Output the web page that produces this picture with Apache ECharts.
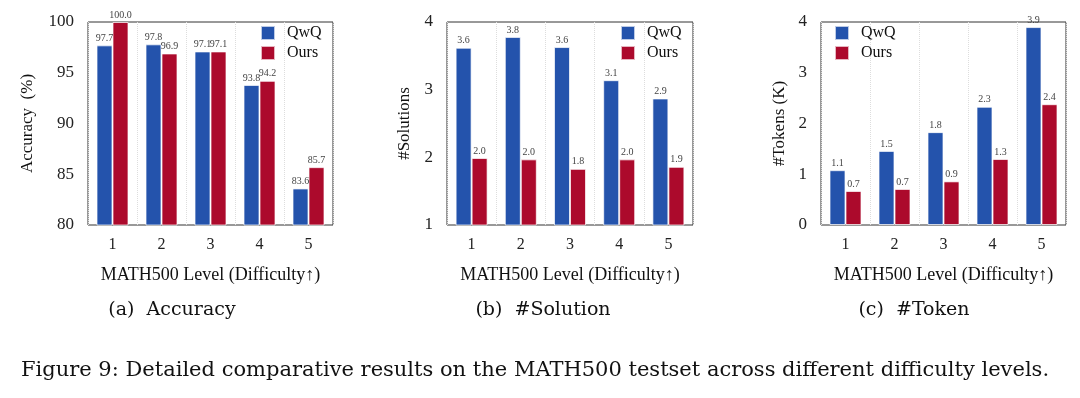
<!DOCTYPE html>
<html>
<head>
<meta charset="utf-8">
<script src="https://cdn.jsdelivr.net/npm/echarts@6/dist/echarts.min.js"></script>
<style>
  html, body { margin: 0; padding: 0; background: #fff; }
  #main { width: 1080px; height: 398px; }
</style>
</head>
<body>
<div id="main"></div>
<script>
// data
var levels = ['1', '2', '3', '4', '5'];
var acc_qwq = [97.7, 97.8, 97.1, 93.8, 83.6];
var acc_ours = [100.0, 96.9, 97.1, 94.2, 85.7];
var sol_qwq = [3.62, 3.78, 3.63, 3.14, 2.87];
var sol_ours = [1.99, 1.97, 1.83, 1.97, 1.86];
var tok_qwq = [1.08, 1.46, 1.83, 2.33, 3.90];
var tok_ours = [0.67, 0.71, 0.86, 1.30, 2.38];

var BLUE = '#2453AC';
var RED = '#AC0A2C';
var SERIF = '"Liberation Serif", "Times New Roman", serif';
var CAPFONT = '"DejaVu Serif", serif';

var myChart = echarts.init(document.getElementById('main'));

var grids = [
    { left: 88, top: 22, width: 245, height: 203 },
    { left: 447, top: 22, width: 246, height: 203 },
    { left: 821, top: 22, width: 245, height: 203 }
];
grids.forEach(function (g) {
    g.show = true;
    g.borderColor = '#333';
    g.borderWidth = 1;
    g.backgroundColor = 'transparent';
});

function xAxisFor(i) {
    return {
        type: 'category',
        gridIndex: i,
        data: levels,
        axisLine: { show: false },
        axisTick: { show: false },
        axisLabel: { fontFamily: SERIF, fontSize: 16, color: '#222', margin: 12 },
        splitLine: { show: true, lineStyle: { color: '#ddd', type: 'dotted', width: 1 } },
        name: 'MATH500 Level (Difficulty↑)',
        nameLocation: 'middle',
        nameGap: 41,
        nameTextStyle: { fontFamily: SERIF, fontSize: 18, color: '#111' }
    };
}

function yAxisFor(i, min, max, name, gap) {
    return {
        type: 'value',
        gridIndex: i,
        min: min,
        max: max,
        interval: i == 0 ? 5 : 1,
        axisLine: { show: false },
        axisTick: { show: false },
        splitLine: { show: false },
        axisLabel: { fontFamily: SERIF, fontSize: 17, color: '#222', margin: 14 },
        name: name,
        nameLocation: 'middle',
        nameGap: gap,
        nameTextStyle: { fontFamily: SERIF, fontSize: 17, color: '#111' }
    };
}

function barSeries(name, i, data, color) {
    return {
        name: name,
        type: 'bar',
        xAxisIndex: i,
        yAxisIndex: i,
        data: data,
        barWidth: 16,
        barGap: '0%',
        itemStyle: { color: color, borderColor: 'rgba(255,255,255,0.7)', borderWidth: 1 },
        label: {
            show: true,
            position: 'top',
            distance: 2,
            fontFamily: SERIF,
            fontSize: 10,
            color: '#444',
            formatter: function (p) { return p.value.toFixed(1); }
        }
    };
}

function legendAt(left) {
    return {
        orient: 'vertical',
        left: left,
        top: 25,
        padding: 0,
        itemWidth: 14,
        itemHeight: 14,
        itemGap: 4,
        icon: 'rect',
        data: ['QwQ', 'Ours'],
        textStyle: { fontFamily: SERIF, fontSize: 16, color: '#111', padding: [0, 0, 0, 7] },
        selectedMode: false
    };
}

var option = {
    animation: false,
    color: [BLUE, RED],
    grid: grids,
    legend: [legendAt(260), legendAt(620), legendAt(834)],
    xAxis: [xAxisFor(0), xAxisFor(1), xAxisFor(2)],
    yAxis: [
        yAxisFor(0, 80, 100, 'Accuracy  (%)', 52),
        yAxisFor(1, 1, 4, '#Solutions', 34),
        yAxisFor(2, 0, 4, '#Tokens (K)', 33)
    ],
    series: [
        barSeries('QwQ', 0, acc_qwq, BLUE),
        barSeries('Ours', 0, acc_ours, RED),
        barSeries('QwQ', 1, sol_qwq, BLUE),
        barSeries('Ours', 1, sol_ours, RED),
        barSeries('QwQ', 2, tok_qwq, BLUE),
        barSeries('Ours', 2, tok_ours, RED)
    ],
    graphic: [
        { type: 'text', style: { x: 172, y: 310, text: '(a)  Accuracy', textAlign: 'center', textVerticalAlign: 'middle', font: '19px ' + CAPFONT, fill: '#111' } },
        { type: 'text', style: { x: 543, y: 310, text: '(b)  #Solution', textAlign: 'center', textVerticalAlign: 'middle', font: '19px ' + CAPFONT, fill: '#111' } },
        { type: 'text', style: { x: 914, y: 310, text: '(c)  #Token', textAlign: 'center', textVerticalAlign: 'middle', font: '19px ' + CAPFONT, fill: '#111' } },
        { type: 'text', style: { x: 535, y: 371, text: 'Figure 9: Detailed comparative results on the MATH500 testset across different difficulty levels.', textAlign: 'center', textVerticalAlign: 'middle', font: '21px ' + CAPFONT, fill: '#111' } }
    ]
};

myChart.setOption(option);
</script>
</body>
</html>
